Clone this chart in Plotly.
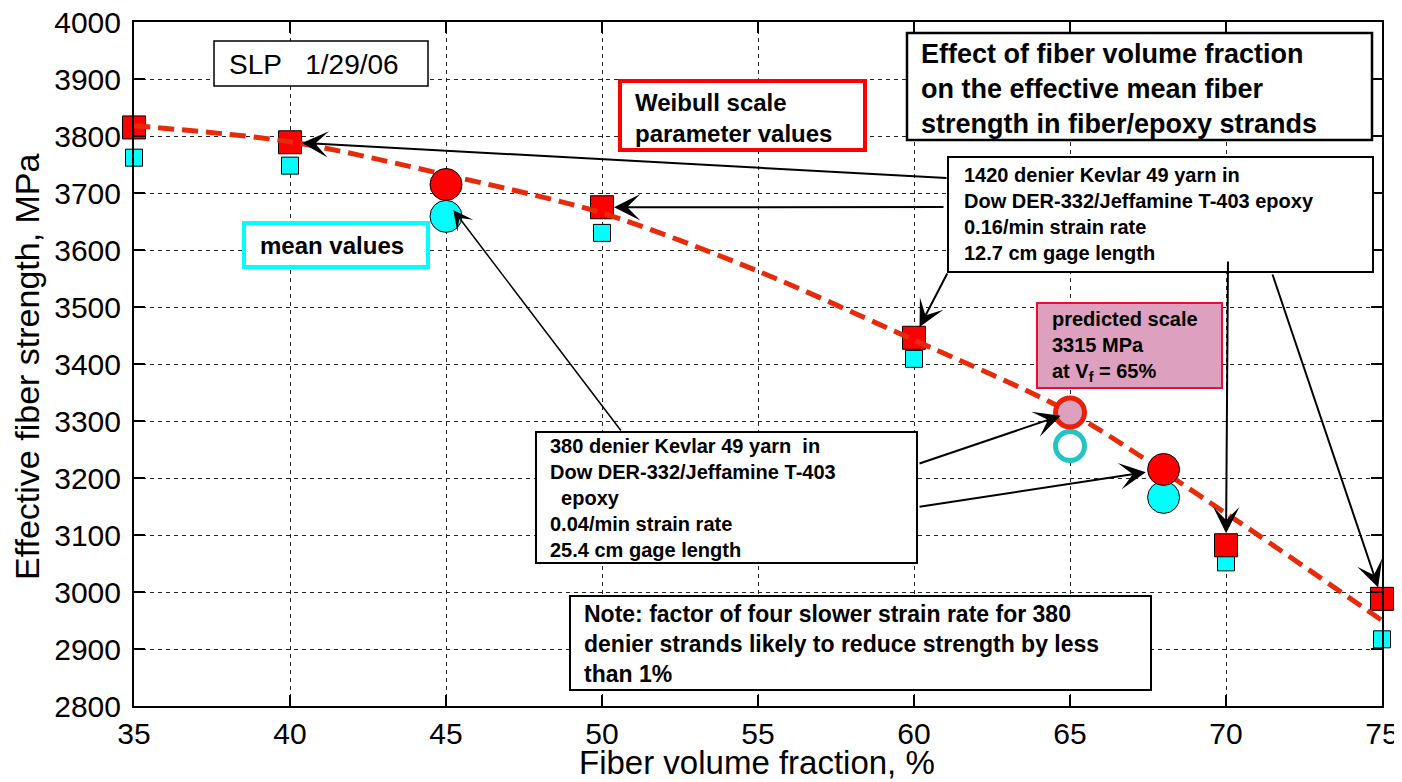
import plotly.graph_objects as go

# ---------------- data ----------------
vf_1420 = [35, 40, 50, 60, 70, 75]
scale_1420 = [3815, 3789, 3675, 3446, 3082, 2988]
mean_1420 = [3762, 3748, 3630, 3409, 3052, 2917]

vf_380 = [45, 68]
scale_380 = [3715, 3215]
mean_380 = [3659, 3166]

vf_pred = [65]
scale_pred = [3315]
mean_pred = [3256]

fit_vf = [35, 40, 45, 50, 55, 60, 65, 70, 75]
fit_scale = [3818, 3790, 3732, 3665, 3563, 3442, 3315, 3138, 2950]

x_ticks = [35, 40, 45, 50, 55, 60, 65, 70, 75]
y_ticks = [2800, 2900, 3000, 3100, 3200, 3300, 3400, 3500, 3600, 3700, 3800, 3900, 4000]

# ---------------- layout geometry (screen pixels of the reference) ----------------
OFF = 8                      # page body margin
W, H = 1402 - OFF, 782 - OFF
PLOT_L, PLOT_R, PLOT_T, PLOT_B = 134, 1382, 22, 706   # screen px of plot area
L, T = PLOT_L - OFF, PLOT_T - OFF
R, B = W - (PLOT_R - OFF), H - (PLOT_B - OFF)
X0, X1 = 35, 75
Y0, Y1 = 2800, 4000
FONT = "Liberation Sans, Arial, sans-serif"


def px_x(px):
    return X0 + (px - PLOT_L) / (PLOT_R - PLOT_L) * (X1 - X0)


def px_y(py):
    return Y1 - (py - PLOT_T) / (PLOT_B - PLOT_T) * (Y1 - Y0)


def paper_x(px):
    return (px - PLOT_L) / (PLOT_R - PLOT_L)


def paper_y(py):
    return (PLOT_B - py) / (PLOT_B - PLOT_T)


fig = go.Figure()

mk_common = dict(mode="markers", cliponaxis=False)
# markers: 1420 denier squares
fig.add_trace(go.Scatter(x=vf_1420, y=mean_1420,
                         marker=dict(symbol="square", size=17, color="#00FFFF",
                                     line=dict(color="black", width=1)), **mk_common))
fig.add_trace(go.Scatter(x=vf_1420, y=scale_1420,
                         marker=dict(symbol="square", size=23, color="#FF0000",
                                     line=dict(color="black", width=1)), **mk_common))
# fitted dashed curve
fig.add_trace(go.Scatter(x=fit_vf, y=fit_scale, mode="lines", cliponaxis=False,
                         line=dict(color="#E62A0A", width=5, dash="16px,8px",
                                   shape="spline", smoothing=0.8)))
# 380 denier circles
fig.add_trace(go.Scatter(x=vf_380, y=mean_380,
                         marker=dict(symbol="circle", size=32, color="#00FFFF",
                                     line=dict(color="black", width=1)), **mk_common))
fig.add_trace(go.Scatter(x=vf_380, y=scale_380,
                         marker=dict(symbol="circle", size=32, color="#FF0000",
                                     line=dict(color="black", width=1)), **mk_common))
# predicted values at 65 %
fig.add_trace(go.Scatter(x=vf_pred, y=mean_pred,
                         marker=dict(symbol="circle", size=29, color="white",
                                     line=dict(color="#22C4C4", width=5)), **mk_common))
fig.add_trace(go.Scatter(x=vf_pred, y=scale_pred,
                         marker=dict(symbol="circle", size=29, color="#DDA0BE",
                                     line=dict(color="#E8200A", width=5)), **mk_common))

# ---------------- boxes ----------------
shapes = []
annotations = []


def add_box(x0, y0, x1, y1, color, lw, fill="white"):
    shapes.append(dict(type="rect", xref="x", yref="y",
                       x0=px_x(x0), x1=px_x(x1), y0=px_y(y0), y1=px_y(y1),
                       line=dict(color=color, width=lw), fillcolor=fill, layer="above"))


def add_text(text, left, cy, size, bold=True):
    annotations.append(dict(text=text, xref="x", yref="y", x=px_x(left), y=px_y(cy),
                            xanchor="left", yanchor="middle", align="left",
                            showarrow=False,
                            font=dict(family=FONT, size=size, color="black",
                                      weight="bold" if bold else "normal")))


add_box(214, 41, 428, 86, "black", 1.5)
add_text("SLP\u00a0\u00a0\u00a01/29/06", 227, 64, 28, bold=False)

add_box(620, 81, 865, 150, "#FF0000", 4)
add_text("Weibull scale<br>parameter values", 633, 118, 24)

add_box(244, 223, 428, 267, "#00FFFF", 4)
add_text("mean values", 258, 245, 24)

add_box(907, 33, 1372, 140, "black", 2.5)
add_text("Effect of fiber volume fraction<br>on the effective mean fiber<br>strength in fiber/epoxy strands",
         919, 89, 27)

add_box(948, 157, 1373, 272, "black", 2)
add_text("1420 denier Kevlar 49 yarn in<br>Dow DER-332/Jeffamine T-403 epoxy<br>"
         "0.16/min strain rate<br>12.7 cm gage length", 962, 214, 20)

add_box(536, 432, 917, 563, "black", 2)
add_text("380 denier Kevlar 49 yarn\u00a0\u00a0in<br>Dow DER-332/Jeffamine T-403<br>"
         "\u00a0\u00a0epoxy<br>0.04/min strain rate<br>25.4 cm gage length", 548, 498, 20)

add_box(1037, 303, 1222, 388, "#E8102E", 2, fill="#DDA0BE")
add_text("predicted scale<br>3315 MPa<br>at V<sub>f</sub> = 65%", 1050, 346, 20)

add_box(570, 596, 1151, 690, "black", 2)
add_text("Note: factor of four slower strain rate for 380<br>"
         "denier strands likely to reduce strength by less<br>than 1%", 582, 644, 23)

# ---------------- arrows ----------------


def add_arrow(tip_x, tip_y, tail_px, tail_py, standoff, width=2):
    annotations.append(dict(text="", x=tip_x, y=tip_y, xref="x", yref="y",
                            ax=px_x(tail_px), ay=px_y(tail_py), axref="x", ayref="y",
                            showarrow=True, arrowhead=3, arrowsize=2.2,
                            arrowwidth=width, arrowcolor="black", standoff=standoff))


# 1420 denier box arrows to red squares
add_arrow(vf_1420[1], scale_1420[1], 948, 178, 12)
add_arrow(vf_1420[2], scale_1420[2], 945, 207, 12)
add_arrow(vf_1420[3], scale_1420[3], 948, 272, 12)
add_arrow(vf_1420[4], scale_1420[4], 1228, 260, 12)
add_arrow(vf_1420[5], scale_1420[5], 1272, 273, 12)
# 380 denier box arrows
add_arrow(vf_380[0], (scale_380[0] + mean_380[0]) / 2, 622, 432, 12, width=1.5)
add_arrow(vf_pred[0], scale_pred[0], 918, 464, 10)
add_arrow(vf_380[1], scale_380[1], 918, 507, 18)

# axis titles (paper coordinates so they are not clipped)
annotations.append(dict(text="Fiber volume fraction, %", xref="paper", yref="paper",
                        x=paper_x(757), y=paper_y(762), xanchor="center", yanchor="middle",
                        showarrow=False, font=dict(family=FONT, size=33, color="black")))
annotations.append(dict(text="Effective fiber strength, MPa", xref="paper", yref="paper",
                        x=paper_x(27), y=paper_y(367), xanchor="center", yanchor="middle",
                        textangle=-90, showarrow=False,
                        font=dict(family=FONT, size=34, color="black")))

axis_common = dict(showline=True, linecolor="black", linewidth=2, mirror="allticks",
                   ticks="inside", ticklen=11, tickwidth=1.5, tickcolor="black",
                   showgrid=True, gridcolor="#222222", gridwidth=1, griddash="4px,4px",
                   zeroline=False, ticklabeloverflow="allow",
                   tickfont=dict(family=FONT, size=30, color="black"))

fig.update_layout(
    width=W, height=H,
    margin=dict(l=L, r=R, t=T, b=B, autoexpand=False),
    paper_bgcolor="white", plot_bgcolor="white",
    showlegend=False,
    xaxis=dict(range=[X0, X1], tickvals=x_ticks, ticktext=[str(v) for v in x_ticks],
               **axis_common),
    yaxis=dict(range=[Y0, Y1], tickvals=y_ticks, ticktext=[str(v) for v in y_ticks],
               ticklabelstandoff=5, **axis_common),
    shapes=shapes,
    annotations=annotations,
)

fig.write_html("out.html")
